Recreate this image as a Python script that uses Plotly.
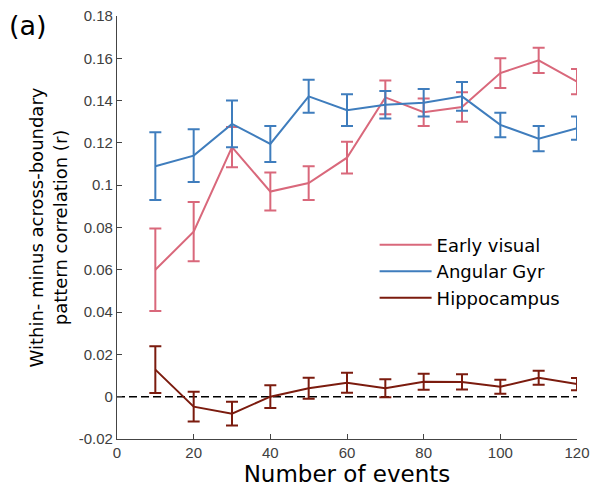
import plotly.graph_objects as go

# Number of events tested
events = [10, 20, 30, 40, 50, 60, 70, 80, 90, 100, 110, 120]

# Mean within- minus across-boundary correlation per region, with SEM
early_visual = [0.060, 0.078, 0.118, 0.097, 0.101, 0.113, 0.1415, 0.1345, 0.137, 0.153, 0.159, 0.149]
early_visual_sem = [0.0195, 0.014, 0.0095, 0.009, 0.008, 0.0075, 0.008, 0.0065, 0.007, 0.007, 0.006, 0.006]

angular_gyr = [0.109, 0.114, 0.129, 0.1195, 0.142, 0.1355, 0.138, 0.139, 0.142, 0.1285, 0.122, 0.127]
angular_gyr_sem = [0.016, 0.0125, 0.011, 0.0085, 0.0078, 0.0075, 0.0065, 0.0065, 0.0068, 0.0058, 0.006, 0.0055]

hippocampus = [0.0128, -0.0047, -0.008, 0.0, 0.004, 0.0066, 0.004, 0.0071, 0.007, 0.0047, 0.009, 0.006]
hippocampus_sem = [0.011, 0.007, 0.0056, 0.0054, 0.005, 0.0047, 0.0043, 0.0038, 0.0036, 0.0033, 0.0033, 0.0029]

x_ticks = [0, 20, 40, 60, 80, 100, 120]
y_ticks = [-0.02, 0, 0.02, 0.04, 0.06, 0.08, 0.1, 0.12, 0.14, 0.16, 0.18]
y_tick_text = ["-0.02", "0", "0.02", "0.04", "0.06", "0.08", "0.1", "0.12", "0.14", "0.16", "0.18"]

series = [
    ("Early visual", early_visual, early_visual_sem, "#d9687b"),
    ("Angular Gyr", angular_gyr, angular_gyr_sem, "#3f7dbd"),
    ("Hippocampus", hippocampus, hippocampus_sem, "#7b1b0e"),
]

TEXT_FONT = "Verdana, DejaVu Sans, sans-serif"
TICK_FONT = "Arial, Liberation Sans, sans-serif"

fig = go.Figure()
for name, vals, sem, color in series:
    fig.add_trace(go.Scatter(
        x=events, y=vals, name=name, mode="lines",
        line=dict(color=color, width=2),
        error_y=dict(type="data", array=sem, visible=True,
                     color=color, thickness=2, width=6),
    ))

# Zero reference line
fig.add_shape(type="line", xref="paper", yref="y", x0=0, x1=1, y0=0, y1=0,
              line=dict(color="black", width=1.6, dash="8px,4px"), layer="below")

axis_common = dict(
    showline=True, linecolor="#444", linewidth=1.2,
    ticks="inside", tickcolor="#444", ticklen=5, tickwidth=1.2,
    showgrid=False, zeroline=False, mirror=False, automargin=False,
    tickfont=dict(family=TICK_FONT, size=15, color="#404040"),
)

fig.update_layout(
    width=593, height=487,
    margin=dict(l=117, r=16, t=16, b=48),
    plot_bgcolor="white", paper_bgcolor="white",
    xaxis=dict(range=[0, 120], tickvals=x_ticks,
               title=dict(text="Number of events", standoff=3,
                          font=dict(family=TEXT_FONT, size=23, color="black")),
               **axis_common),
    yaxis=dict(range=[-0.02, 0.18], tickvals=y_ticks, ticktext=y_tick_text,
               title=dict(text="Within- minus across-boundary<br>pattern correlation (r)", standoff=6,
                          font=dict(family=TEXT_FONT, size=18, color="black")),
               **axis_common),
    legend=dict(x=0.56, y=0.502, xanchor="left", yanchor="top",
                bgcolor="rgba(0,0,0,0)", tracegroupgap=0,
                font=dict(family=TEXT_FONT, size=18, color="black"),
                itemwidth=52),
    showlegend=True,
)

fig.add_annotation(text="(a)", xref="paper", yref="paper", x=-0.24, y=1.02,
                   xanchor="left", yanchor="top", showarrow=False,
                   font=dict(family=TEXT_FONT, size=27, color="black"))

fig.write_html("out.html")
